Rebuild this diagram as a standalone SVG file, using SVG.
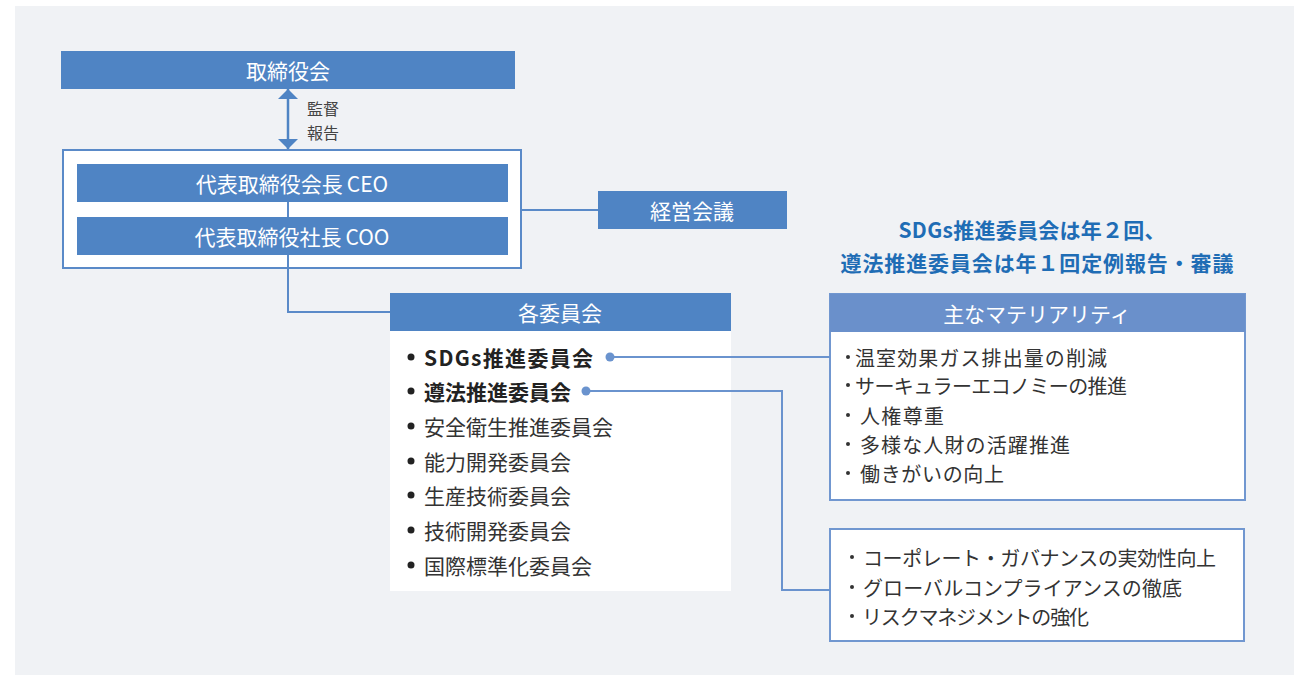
<svg xmlns="http://www.w3.org/2000/svg" width="1294" height="675" viewBox="0 0 1294 675">
<defs>
<style>
text{font-family:"Noto Sans CJK JP","Noto Sans",sans-serif;dominant-baseline:central}
.bar{fill:#4F84C4}
.bt{fill:#fff;font-size:21px;text-anchor:middle}
.line{stroke:#5A8AC8;stroke-width:2;fill:none}
.dline{stroke:#6A93CE;stroke-width:2;fill:none}
.item{fill:#333;font-size:21px}
.itemb{fill:#222;font-size:21px;font-weight:bold}
.mat{fill:#333;font-size:20px}
.note{fill:#444;font-size:16px}
.title{fill:#1F6DB5;font-size:21px;font-weight:bold;text-anchor:middle}
</style>
<marker id="ah" viewBox="0 0 10 20" refX="10" refY="10" markerWidth="10" markerHeight="20" markerUnits="userSpaceOnUse" orient="auto-start-reverse">
<path d="M0,0 L10,10 L0,20 z" fill="#4F84C4"/>
</marker>
</defs>
<rect x="0" y="0" width="1294" height="675" fill="#fff"/>
<rect x="15" y="6" width="1279" height="669" fill="#F0F2F5"/>

<g id="board">
<rect class="bar" x="61" y="51" width="454" height="38"/>
<text class="bt" x="288" y="70">取締役会</text>
</g>

<g id="supervise-label">
<text class="note" x="307" y="108">監督</text>
<text class="note" x="307" y="132">報告</text>
</g>

<g id="executives">
<rect x="63" y="150" width="458" height="118" fill="#fff" stroke="#5A8AC8" stroke-width="2"/>
<rect class="bar" x="77" y="164" width="431" height="38"/>
<text class="bt" x="292" y="183">代表取締役会長<tspan dx="4">CEO</tspan></text>
<rect class="bar" x="77" y="217" width="431" height="38"/>
<text class="bt" x="292" y="236">代表取締役社長<tspan dx="4">COO</tspan></text>
</g>

<g id="mgmt-meeting">
<rect class="bar" x="598" y="191" width="189" height="38"/>
<text class="bt" x="692" y="210">経営会議</text>
</g>

<g id="committees">
<rect x="390" y="331" width="341" height="260" fill="#fff"/>
<rect class="bar" x="390" y="293" width="341" height="38"/>
<text class="bt" x="560" y="312">各委員会</text>
<g fill="#222">
<circle cx="411" cy="357" r="3.5"/>
<circle cx="411" cy="391" r="3.5"/>
<circle cx="411" cy="426" r="3.5"/>
<circle cx="411" cy="461" r="3.5"/>
<circle cx="411" cy="495" r="3.5"/>
<circle cx="411" cy="530" r="3.5"/>
<circle cx="411" cy="565" r="3.5"/>
</g>
<text class="itemb" x="424" y="357" textLength="169">SDGs推進委員会</text>
<text class="itemb" x="424" y="391">遵法推進委員会</text>
<text class="item" x="424" y="426">安全衛生推進委員会</text>
<text class="item" x="424" y="461">能力開発委員会</text>
<text class="item" x="424" y="495">生産技術委員会</text>
<text class="item" x="424" y="530">技術開発委員会</text>
<text class="item" x="424" y="565">国際標準化委員会</text>
</g>

<g id="title">
<text class="title" x="1032" y="229" textLength="267">SDGs推進委員会は年２回、</text>
<text class="title" x="1037" y="262" textLength="393">遵法推進委員会は年１回定例報告・審議</text>
</g>

<g id="materiality">
<rect x="830" y="294" width="415" height="206" fill="#fff" stroke="#7197D0" stroke-width="2"/>
<rect x="830" y="294" width="415" height="38" fill="#6A90CB"/>
<text class="bt" x="1037" y="313">主なマテリアリティ</text>
<g fill="#333">
<circle cx="848" cy="357" r="2"/>
<circle cx="848" cy="385" r="2"/>
<circle cx="848" cy="415" r="2"/>
<circle cx="848" cy="444" r="2"/>
<circle cx="848" cy="473" r="2"/>
</g>
<text class="mat" x="855" y="357" textLength="252">温室効果ガス排出量の削減</text>
<text class="mat" x="855" y="385" textLength="272">サーキュラーエコノミーの推進</text>
<text class="mat" x="860" y="415" textLength="84">人権尊重</text>
<text class="mat" x="860" y="444" textLength="210">多様な人財の活躍推進</text>
<text class="mat" x="860" y="473" textLength="144">働きがいの向上</text>
</g>

<g id="governance">
<rect x="830" y="529" width="414" height="112" fill="#fff" stroke="#7197D0" stroke-width="2"/>
<g fill="#333">
<circle cx="852" cy="557" r="2"/>
<circle cx="852" cy="587" r="2"/>
<circle cx="852" cy="616" r="2"/>
</g>
<text class="mat" x="863" y="557" textLength="353">コーポレート・ガバナンスの実効性向上</text>
<text class="mat" x="863" y="587" textLength="319">グローバルコンプライアンスの徹底</text>
<text class="mat" x="862" y="616" textLength="227">リスクマネジメントの強化</text>
</g>

<g id="connectors">
<line x1="288" y1="89" x2="288" y2="149" stroke="#4F84C4" stroke-width="2.5" marker-start="url(#ah)" marker-end="url(#ah)"/>
<path class="line" d="M288,202 V217"/>
<path class="line" d="M288,255 V312 H390"/>
<path class="line" d="M522,210 H598"/>
<path class="dline" d="M610,357 H830"/>
<circle cx="610" cy="357" r="4.5" fill="#6A93CE"/>
<path class="dline" d="M586,391 H782 V590 H830"/>
<circle cx="586" cy="391" r="4.5" fill="#6A93CE"/>
</g>
</svg>
